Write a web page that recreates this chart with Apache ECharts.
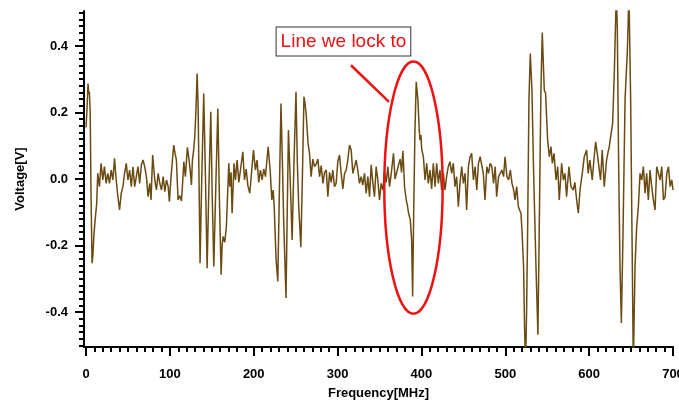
<!DOCTYPE html>
<html>
<head>
<meta charset="utf-8">
<script src="https://cdn.jsdelivr.net/npm/echarts@6/dist/echarts.min.js"></script>
<style>
  html, body { margin: 0; padding: 0; background: #fff; }
  #chart { width: 679px; height: 403px; }
</style>
</head>
<body>
<div id="chart"></div>
<script>
const freq = [
  0, 1, 2.4, 3.3, 4, 5, 6, 7.2, 8.2, 9.5, 11, 12.7,
  14, 16, 18, 20, 22, 24, 26, 28, 30, 32, 34, 36, 38, 40, 42, 44, 46, 48, 50,
  52, 54, 56, 58, 60, 62, 64, 66, 68, 70, 72, 74, 76, 77.5, 79.5, 82, 84, 86,
  88, 90, 92, 94, 96, 98, 99.4, 101.5, 104.6, 106, 107.8, 109.8, 111.8, 113.8,
  115.5, 116.6, 118.5, 120.9, 122.9, 124.5, 125.7, 126.9, 128.5, 129.7, 131,
  132.5, 133.7, 135, 136, 138, 140.4, 142.5, 144.4, 146.5, 148.8, 150.5, 152.4,
  154.8, 157.2, 159, 161.1, 162.3, 163.5, 165.5, 167.4, 168.8, 170.3, 171.5,
  173, 174.2, 175.8, 176.5, 178.2, 180.2, 182.2, 184.2, 187, 189, 191, 193,
  195.3, 197.3, 199.7, 202, 204, 206, 208, 210, 212, 214, 217.2, 219.6, 221.6,
  223.2, 224.4, 226.7, 228.7, 230.5, 232.5, 234.2, 235.7, 238.5, 241.4, 243.5,
  245.8, 248, 250.4, 252, 253.7, 256.2, 258, 259.9, 261, 262.5, 264.8, 266.5,
  268.5, 270.5, 272.5, 274.5, 276.5, 278.5, 280.5, 282.5, 284.5, 286.5, 288.4,
  290.4, 292.4, 294.3, 296.3, 298.3, 300.3, 302.3, 304.3, 306.3, 308.3, 310.3,
  312.2, 314.2, 316.2, 318.2, 320.2, 322.2, 324.1, 326.1, 328.1, 330.1, 332.1,
  334.1, 336.1, 338.1, 340.1, 342.1, 344, 346, 348, 350, 352, 354, 356, 358,
  360, 362, 364, 366.7, 368.5, 370.5, 372.5, 374.7, 376.3, 377.9, 379.9, 381.9,
  383.3, 384.7, 386.7, 388.3, 389.5, 390.7, 392.2, 393.8, 395.8, 397.4, 398.3,
  399.4, 400.3, 402.3, 404.3, 406.3, 408.2, 410.2, 412.2, 414.2, 416.2, 418.2,
  420.2, 422.1, 424.1, 426.1, 428.1, 430, 432, 434, 436, 438, 440, 442, 444,
  446, 448, 450, 452, 453.9, 456, 458, 459.9, 462, 464, 466, 468, 470, 471.8,
  473.8, 475.8, 478, 480, 482, 484, 486, 488, 489.7, 492, 494, 496, 498, 499.7,
  502, 504, 506, 508, 510, 511.6, 513.6, 515.6, 517.1, 518.7, 520, 521.8, 523,
  524.2, 525.4, 526.6, 528.2, 529.8, 531.8, 533.8, 536.6, 538.9, 540.9, 542.5,
  544.1, 546.5, 548.1, 548.9, 550.5, 552.5, 554.5, 556.1, 558.1, 560.5, 562.5,
  564.4, 567.2, 569.2, 571.2, 573.1, 575.9, 578.3, 581.1, 583, 585.1, 587.1,
  589.1, 591.8, 594.2, 597, 598.9, 600.9, 603.7, 605.7, 607.7, 609.7, 611.6,
  613.6, 615.6, 618, 620.8, 622.5, 624, 626, 628, 630, 632.4, 633.6, 635.2,
  636.8, 638.4, 640.4, 642.8, 645.6, 647.5, 649.5, 651.1, 652.7, 654.7, 656.7,
  658.7, 660.7, 662.7, 664.7, 666.7, 668.6, 670.6, 672.6, 674.6, 676.6, 678.6,
  680.6, 682.6, 684.6, 686.6, 688.6, 690.6, 692.6, 694.6, 696.6, 698.6, 700
];
const volt = [
  0.155, 0.2, 0.287, 0.255, 0.262, 0.2, -0.05, -0.253, -0.23, -0.165, -0.12, -0.075,
  0.017, -0.023, 0.047, -0.003, 0.037, -0.013, 0.017, -0.013, 0.027, -0.003, 0.062, -0.003, -0.053, -0.093, -0.043, -0.023, 0.017, 0.047, -0.003,
  0.027, -0.023, 0.037, -0.023, 0.007, 0.037, -0.013, 0.042, 0.057, 0.037, 0.007, -0.053, -0.013, -0.063, 0.072, -0.003, -0.033, 0.017,
  -0.013, -0.033, 0.007, -0.038, -0.003, -0.023, -0.068, 0.01, 0.102, 0.08, 0.057, -0.063, -0.05, -0.066,
  0.0, 0.052, 0.007, 0.095, 0.057, 0.02, -0.018, 0.057, 0.09, 0.127, 0.2,
  0.317, 0.217, -0.05, -0.253, 0.0, 0.257, 0.0, -0.268, -0.03, 0.202, -0.05, -0.263,
  -0.02, 0.212, -0.05, -0.288, -0.2, -0.173, -0.19, -0.143, -0.05, 0.047, -0.023,
  0.02, -0.103, 0.0, 0.047, -0.003, 0.057, -0.01, 0.027, 0.082, -0.003, 0.03, -0.02,
  -0.043, 0.017, 0.087, 0.027, 0.057, -0.01, 0.027, -0.003, 0.03, 0.007, 0.097, 0.027, -0.063,
  -0.033, -0.083, -0.243, -0.308, -0.05, 0.227, 0.05, -0.123, -0.358, 0.147, 0.0,
  -0.183, 0.05, 0.262, 0.05, -0.083, -0.205, 0.0, 0.247, 0.23, 0.197, 0.107, 0.077,
  0.007, 0.06, 0.037, 0.045, 0.06, 0.007, 0.04, -0.013, 0.02, 0.027, -0.053,
  0.02, -0.01, 0.027, -0.023, -0.013, 0.053, 0.072, 0.017, -0.03, 0.017, 0.027,
  0.057, 0.102, 0.087, 0.017, 0.037, 0.057, 0.027, -0.013, 0.007, -0.018, 0.017,
  -0.043, 0.007, -0.053, 0.043, -0.013, -0.053, 0.037, -0.003, -0.063, -0.013, -0.033, 0.02, -0.01,
  0.037, -0.023, 0.017, 0.077, 0.0, -0.003, 0.04, 0.06, 0.02, 0.085, -0.024, -0.063,
  -0.08, -0.103, -0.123, -0.183, -0.353, -0.113, 0.137, 0.292, 0.237, 0.147, 0.117,
  0.132, 0.09, 0.067, -0.003, 0.047, -0.013, 0.027, -0.03, 0.047, -0.023, 0.047,
  -0.013, 0.027, -0.033, 0.017, -0.033, 0.007, 0.037, 0.052, 0.017, 0.047, -0.023, 0.007, -0.083,
  -0.013, 0.037, -0.013, 0.017, -0.093, 0.037, 0.067, 0.077, -0.003, 0.037, -0.033, 0.047, 0.067, 0.072,
  0.017, -0.063, 0.037, 0.017, 0.047, 0.037, -0.013, 0.037, -0.053, 0.007, 0.017, 0.027, 0.007, 0.067,
  0.007, -0.003, 0.027, -0.013, -0.033, -0.063, -0.023, -0.083, -0.093, -0.103, -0.16, -0.263, -0.45,
  -0.56, -0.4, -0.163, 0.237, 0.377, 0.267, 0.017, -0.263, -0.468, -0.063, 0.267,
  0.44, 0.267, 0.257, 0.207, 0.117, 0.067, 0.097, 0.047, 0.077, -0.003, 0.037,
  -0.063, 0.047, -0.003, 0.017, -0.053, 0.037, -0.023, -0.033, -0.01, -0.063, -0.103,
  -0.033, 0.017, 0.067, 0.087, 0.017, 0.057, -0.003, 0.057, 0.112, 0.077, 0.037,
  -0.003, 0.087, -0.023, 0.057, 0.08, 0.097, 0.097, 0.167, 0.317, 0.56, 0.45, 0.037,
  -0.263, -0.433, -0.163, 0.237, 0.387, 0.56, 0.237, -0.163, -0.56, -0.263, -0.143,
  -0.083, 0.017, -0.003, 0.037, -0.043, 0.017, -0.063, 0.027, -0.023, -0.063, -0.093,
  0.037, 0.042, -0.003, 0.037, -0.063, -0.053, 0.017, 0.037, -0.023, -0.003, -0.033
];

// tick marks
const freqTicks = [0, 100, 200, 300, 400, 500, 600, 700];
const voltTicks = [-0.4, -0.2, 0.0, 0.2, 0.4];

// annotation, in data coordinates
const noteText = 'Line we lock to';
const notePos = [307, 0.413];
const pointerFrom = [316, 0.342];
const pointerTo = [361.3, 0.232];
const ringCenter = [390.5, -0.026];
const ringRadius = [34.8, 0.379];

const freqMinor = [];
for (let f = 0; f <= 700; f += 10) freqMinor.push(f);
const voltMinor = [];
for (let i = -25; i <= 25; i++) voltMinor.push(i / 50);

const chart = echarts.init(document.getElementById('chart'));

const xRange = { type: 'value', min: -2.4, max: 700, position: 'bottom', splitLine: { show: false } };
const yRange = { type: 'value', min: -0.505, max: 0.505, position: 'left', splitLine: { show: false } };
const labelFont = { color: '#000', fontWeight: 'bold', fontSize: 13, fontFamily: 'Liberation Sans, Arial, sans-serif' };

chart.setOption({
  animation: false,
  backgroundColor: '#fff',
  grid: { left: 84, right: 6, top: 11, bottom: 56, outerBoundsMode: 'none' },
  xAxis: [
    Object.assign({}, xRange, {
      name: 'Frequency[MHz]',
      nameLocation: 'middle',
      nameGap: 40,
      nameTextStyle: labelFont,
      axisLine: { onZero: false, lineStyle: { color: '#000', width: 2 } },
      axisTick: { customValues: freqTicks, length: 9, lineStyle: { color: '#000', width: 2 } },
      axisLabel: Object.assign({ customValues: freqTicks, margin: 21 }, labelFont)
    }),
    Object.assign({}, xRange, {
      axisLine: { show: false, onZero: false },
      axisTick: { customValues: freqMinor, length: 5, lineStyle: { color: '#000', width: 2 } },
      axisLabel: { show: false }
    })
  ],
  yAxis: [
    Object.assign({}, yRange, {
      name: 'Voltage[V]',
      nameLocation: 'middle',
      nameGap: 57,
      nameTextStyle: labelFont,
      axisLine: { onZero: false, lineStyle: { color: '#000', width: 2 } },
      axisTick: { customValues: voltTicks, length: 9, lineStyle: { color: '#000', width: 2 } },
      axisLabel: Object.assign({
        customValues: voltTicks,
        margin: 16,
        formatter: v => v.toFixed(1)
      }, labelFont)
    }),
    Object.assign({}, yRange, {
      axisLine: { show: false, onZero: false },
      axisTick: { customValues: voltMinor, length: 5, lineStyle: { color: '#000', width: 2 } },
      axisLabel: { show: false }
    })
  ],
  series: [{
    type: 'line',
    xAxisIndex: 0,
    yAxisIndex: 0,
    data: freq.map((f, i) => [f, volt[i]]),
    showSymbol: false,
    clip: true,
    lineStyle: { color: '#6b4b12', width: 1.5 },
    z: 3
  }]
});

// red annotation drawn on top of the plot
const px = p => chart.convertToPixel({ xAxisIndex: 0, yAxisIndex: 0 }, p);
const c = px(ringCenter);
const edge = px([ringCenter[0] + ringRadius[0], ringCenter[1] + ringRadius[1]]);
const a = px(pointerFrom);
const b = px(pointerTo);
const n = px(notePos);

chart.setOption({
  graphic: [
    {
      type: 'ellipse',
      shape: { cx: c[0], cy: c[1], rx: edge[0] - c[0], ry: c[1] - edge[1] },
      style: { fill: null, stroke: '#ee1111', lineWidth: 2.5 },
      z: 10
    },
    {
      type: 'line',
      shape: { x1: a[0], y1: a[1], x2: b[0], y2: b[1] },
      style: { stroke: '#ee1111', lineWidth: 2.5 },
      z: 10
    },
    {
      type: 'text',
      x: n[0],
      y: n[1],
      style: {
        text: noteText,
        fill: '#ee1111',
        font: '19px Liberation Sans, Arial, sans-serif',
        align: 'center',
        verticalAlign: 'middle',
        backgroundColor: '#fff',
        borderColor: '#333',
        borderWidth: 1,
        padding: [5, 4, 4, 4]
      },
      z: 10
    }
  ]
});
</script>
</body>
</html>
